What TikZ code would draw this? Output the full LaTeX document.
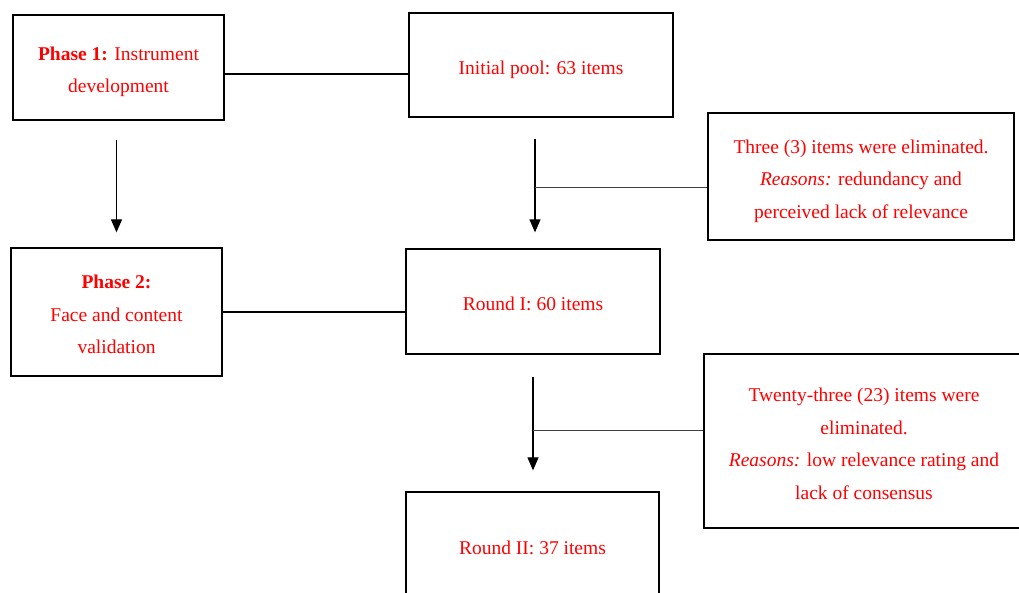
\documentclass[tikz,border=0pt]{standalone}
\usepackage{fontspec}
\setmainfont{Liberation Serif}
\usetikzlibrary{arrows.meta}
\newcommand{\strutup}[1]{\rule{0pt}{#1}}

\begin{document}
\begin{tikzpicture}[x=1pt, y=-1pt, >={Triangle[width=11pt,length=13pt]},
    box/.style={draw, line width=1.3pt, align=center, text=red, inner sep=0pt,
      font=\fontsize{19.5}{32.5}\selectfont},
    link/.style={line width=1.8pt},
    arr/.style={->, line width=1.2pt},
    branch/.style={line width=0.6pt, black!75}]
    \useasboundingbox (0,0) rectangle (1019,592);

    % Phases
    \node[box, minimum width=211pt, minimum height=105pt] (p1) at (118.5,67.5)
        {\strutup{22.5pt}\textbf{Phase 1:} Instrument\\development};
    \node[box, minimum width=211pt, minimum height=128pt] (p2) at (116.5,312)
        {\strutup{18.5pt}\textbf{Phase 2:}\\Face and content\\validation};

    % Item pool and rounds
    \node[box, minimum width=264pt, minimum height=104pt] (pool) at (541,65)
        {\strutup{24pt}Initial pool: 63 items};
    \node[box, minimum width=254pt, minimum height=105pt] (r1) at (533,301.5)
        {\strutup{18pt}Round I: 60 items};
    \node[box, minimum width=253pt, minimum height=110pt] (r2) at (532.5,547)
        {\strutup{16pt}Round II: 37 items};

    % Eliminations
    \node[box, minimum width=306pt, minimum height=127pt] (elim1) at (861,176.5)
        {\strutup{22.5pt}Three (3) items were eliminated.\\\textit{Reasons:} redundancy and\\perceived lack of relevance};
    \node[box, minimum width=320pt, minimum height=174pt] (elim2) at (864,441)
        {\strutup{19.5pt}Twenty-three (23) items were\\eliminated.\\\textit{Reasons:} low relevance rating and\\lack of consensus};

    % Connectors
    \draw[link] ([yshift=-6.5pt]p1.east) -- ([yshift=-6.5pt]p1.east -| pool.west);
    \draw[link] (p2.east) -- (p2.east -| r1.west);
    \draw[arr, shorten <=19pt, shorten >=15pt] (p1.south -| p2.north) -- (p2.north);
    \draw[arr, shorten <=21pt, shorten >=16pt] ([xshift=2pt]pool.south -| r1.north) -- ([xshift=2pt]r1.north);
    \draw[arr, shorten <=22pt, shorten >=21pt] (r1.south) -- (r1.south |- r2.north);

    % Branches
    \coordinate (b1) at ([yshift=-10.5pt]elim1.west);
    \coordinate (b2) at ([yshift=11pt]elim2.west);
    \draw[branch] (b1) -- ([xshift=2pt]b1 -| r1.north);
    \draw[branch] (b2) -- (b2 -| r1.south);
\end{tikzpicture}
\end{document}
